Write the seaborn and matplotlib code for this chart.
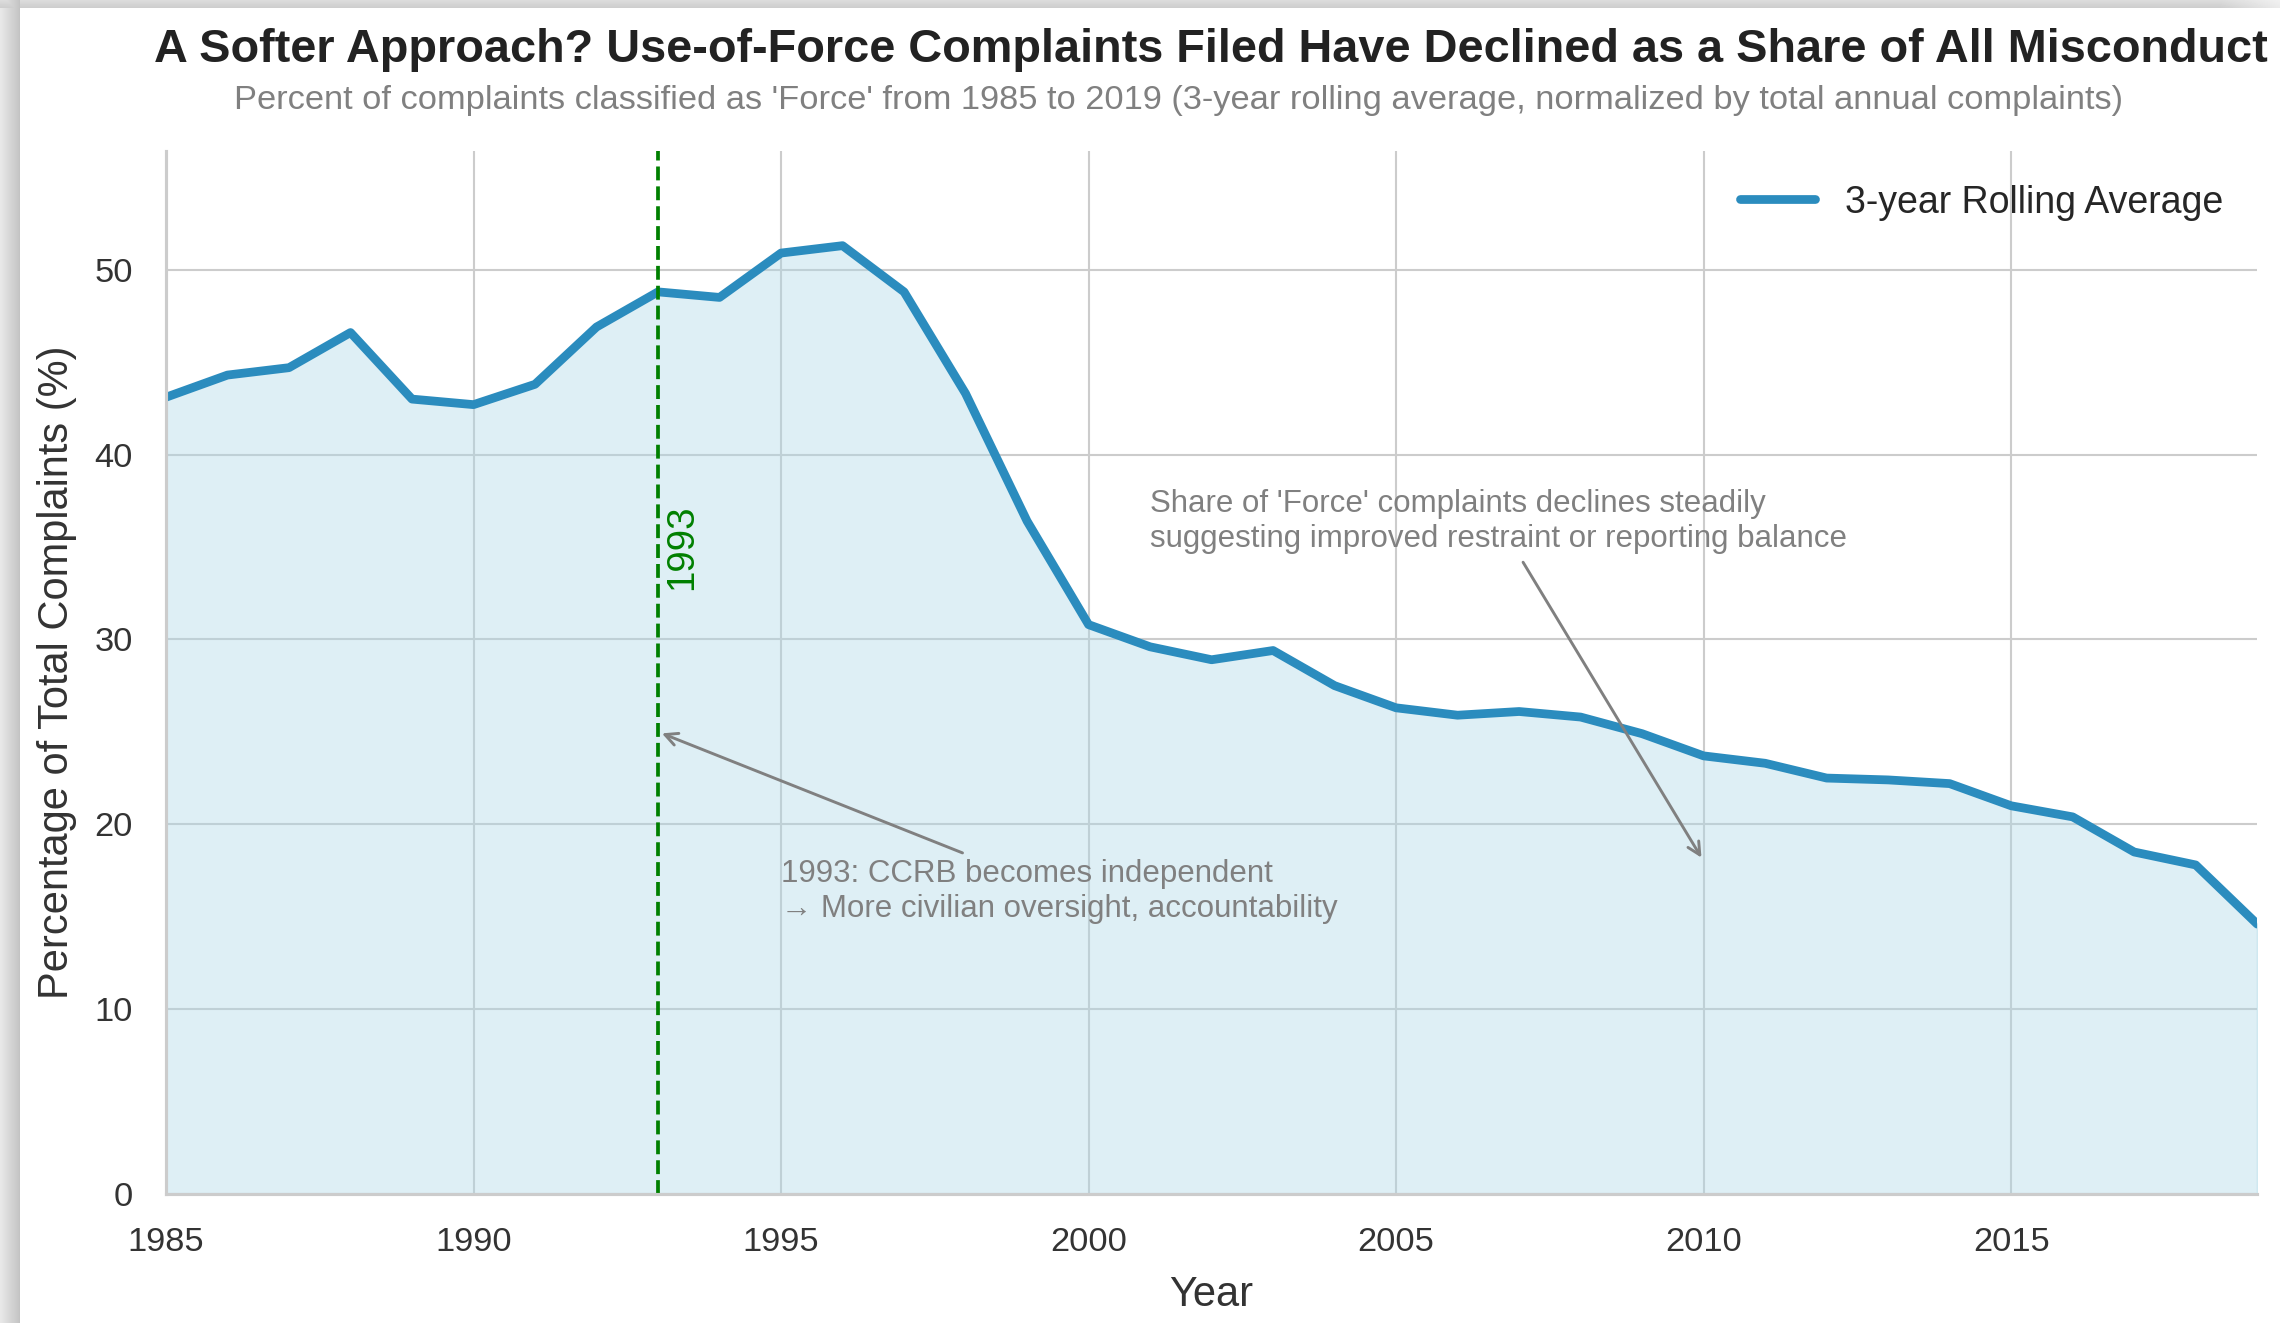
import numpy as np
import pandas as pd
import matplotlib
matplotlib.use("Agg")
import matplotlib.pyplot as plt
import seaborn as sns

# ── data ──────────────────────────────────────────────────────────────────
years = list(range(1985, 2020))
force_share = [43.1, 44.3, 44.7, 46.6, 43.0, 42.7, 43.8, 46.9, 48.8, 48.5,
               50.9, 51.3, 48.8, 43.3, 36.4, 30.8, 29.6, 28.9, 29.4, 27.5,
               26.3, 25.9, 26.1, 25.8, 24.9, 23.7, 23.3, 22.5, 22.4, 22.2,
               21.0, 20.4, 18.5, 17.8, 14.6]
event_year = 1993

title = "A Softer Approach? Use-of-Force Complaints Filed Have Declined as a Share of All Misconduct"
subtitle = ("Percent of complaints classified as 'Force' from 1985 to 2019 "
            "(3-year rolling average, normalized by total annual complaints)")
note_ccrb = "1993: CCRB becomes independent\n\u2192 More civilian oversight, accountability"
note_trend = ("Share of 'Force' complaints declines steadily\n"
              "suggesting improved restraint or reporting balance")

df = pd.DataFrame({"Year": years, "Share": force_share})

# ── style ─────────────────────────────────────────────────────────────────
sns.set_theme(style="whitegrid")
plt.rcParams["font.family"] = ["Liberation Sans", "DejaVu Sans"]

fig = plt.figure(figsize=(15.2, 8.82), dpi=150, facecolor="white")

# screenshot-like grey shadow along the top/left edge
H, W = 1323, 2280
yy, xx = np.mgrid[0:H, 0:W].astype(float)
shade = np.ones((H, W))
left = xx < 20
top = yy < 8
shade[left] = 0.91 - 0.15 * (xx[left] / 20.0)
top_val = 0.86 - 0.06 * (yy / 8.0)
fade = np.clip((xx - 2220) / 60.0, 0, 1)
top_val = top_val + (1 - top_val) * fade * 0.6
shade[top] = np.minimum(shade[top], top_val[top])
bg = fig.add_axes([0, 0, 1, 1], zorder=-10)
bg.imshow(shade, cmap="gray", vmin=0, vmax=1, aspect="auto", interpolation="nearest")
bg.axis("off")

ax = fig.add_axes([0.0728, 0.0975, 0.9172, 0.7885])

line_color = "#2b8cbe"
sns.lineplot(data=df, x="Year", y="Share", color=line_color, lw=4.2,
             label="3-year Rolling Average", ax=ax)
ax.fill_between(df["Year"], df["Share"], color="lightblue", alpha=0.4)

ax.axvline(event_year, color="green", linestyle="--", lw=1.8)
ax.text(event_year + 0.1, 35, str(event_year), rotation=90, color="green",
        fontsize=18.5, ha="left", va="center")

ax.annotate(note_ccrb, xy=(event_year, 25), xytext=(1995, 15),
            color="gray", fontsize=15,
            arrowprops=dict(arrowstyle="->", color="gray", lw=1.4))
ax.annotate(note_trend, xy=(2010, 18), xytext=(2001, 35),
            color="gray", fontsize=15,
            arrowprops=dict(arrowstyle="->", color="gray", lw=1.4))

ax.set_xlim(1985, 2019)
ax.set_ylim(0, max(force_share) * 1.1)
ax.set_xlabel("Year", fontsize=20, color="#333333", labelpad=8)
ax.set_ylabel("Percentage of Total Complaints (%)", fontsize=20,
              color="#333333", labelpad=8)
ax.tick_params(axis="both", labelsize=16.5, colors="#333333", pad=10)
sns.despine(ax=ax)
for s in ["left", "bottom"]:
    ax.spines[s].set_color("#cccccc")
    ax.spines[s].set_linewidth(1.5)

ax.legend(loc="upper right", frameon=False, fontsize=18)

fig.text(0.531, 0.962, title, ha="center", va="center", fontsize=22.5,
         fontweight="bold", color="#222222")
fig.text(0.517, 0.924, subtitle, ha="center", va="center", fontsize=16.5,
         color="gray")

fig.savefig("out.png", dpi=150)
